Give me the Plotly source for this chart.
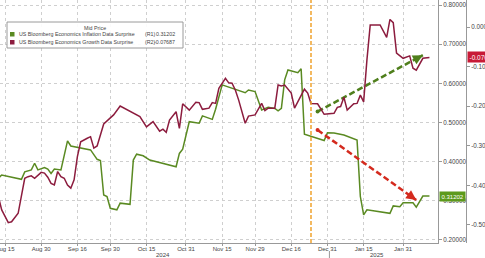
import numpy as np
import plotly.graph_objects as go

# ---------------- data ----------------
infl_dates = ["2024-08-13","2024-08-14","2024-08-22","2024-08-23","2024-08-27","2024-08-28","2024-08-29",
              "2024-09-02","2024-09-03","2024-09-04","2024-09-05","2024-09-09","2024-09-11","2024-09-12",
              "2024-09-20","2024-09-24","2024-09-25","2024-09-26","2024-09-27","2024-09-30","2024-10-02",
              "2024-10-03","2024-10-08","2024-10-09","2024-10-10","2024-10-14","2024-10-16","2024-10-28",
              "2024-10-29","2024-10-30","2024-11-01","2024-11-06","2024-11-07","2024-11-12","2024-11-13",
              "2024-11-15","2024-11-26","2024-11-27","2024-11-29","2024-12-03","2024-12-05","2024-12-09",
              "2024-12-10","2024-12-11","2024-12-12","2024-12-13","2024-12-18","2024-12-19","2024-12-20",
              "2024-12-24","2024-12-30","2024-12-31","2025-01-02","2025-01-07","2025-01-13","2025-01-14",
              "2025-01-15","2025-01-16","2025-01-27","2025-01-28","2025-01-30","2025-01-31","2025-02-05",
              "2025-02-06","2025-02-10","2025-02-12"]
infl_vals = [0.358,0.366,0.355,0.374,0.379,0.396,0.379,
             0.385,0.381,0.370,0.381,0.379,0.453,0.440,
             0.430,0.406,0.403,0.315,0.311,0.281,0.277,
             0.294,0.291,0.404,0.419,0.415,0.404,0.387,
             0.421,0.432,0.502,0.498,0.517,0.508,0.534,
             0.596,0.576,0.583,0.579,0.532,0.539,0.536,
             0.530,0.536,0.609,0.634,0.627,0.637,0.470,
             0.464,0.454,0.474,0.473,0.468,0.455,0.311,
             0.264,0.277,0.268,0.287,0.285,0.295,0.295,
             0.284,0.312,0.31202]

growth_dates = ["2024-08-13","2024-08-14","2024-08-16","2024-08-19","2024-08-21","2024-08-22","2024-08-23",
                "2024-08-26","2024-08-27","2024-08-28","2024-08-30","2024-09-02","2024-09-03","2024-09-04",
                "2024-09-05","2024-09-06","2024-09-09","2024-09-10","2024-09-11","2024-09-12","2024-09-13",
                "2024-09-16","2024-09-17","2024-09-19","2024-09-20","2024-09-23","2024-09-24","2024-09-26",
                "2024-09-30","2024-10-01","2024-10-03","2024-10-07","2024-10-10","2024-10-11","2024-10-15",
                "2024-10-17","2024-10-21","2024-10-22","2024-10-23","2024-10-24","2024-10-28","2024-10-29",
                "2024-10-30","2024-11-01","2024-11-05","2024-11-06","2024-11-07","2024-11-11","2024-11-12",
                "2024-11-13","2024-11-14","2024-11-18","2024-11-19","2024-11-20","2024-11-21","2024-11-22",
                "2024-11-26","2024-11-27","2024-11-29","2024-12-03","2024-12-04","2024-12-05","2024-12-09",
                "2024-12-10","2024-12-11","2024-12-12","2024-12-16","2024-12-17","2024-12-20","2024-12-23",
                "2024-12-24","2024-12-26","2024-12-30","2025-01-02","2025-01-03","2025-01-06","2025-01-07",
                "2025-01-08","2025-01-10","2025-01-13","2025-01-14","2025-01-15","2025-01-16","2025-01-17",
                "2025-01-22","2025-01-24","2025-01-27","2025-01-28","2025-01-29","2025-01-31","2025-02-04",
                "2025-02-05","2025-02-06","2025-02-10","2025-02-12"]
growth_vals = [-0.4285,-0.462,-0.494,-0.492,-0.4705,-0.424,-0.382,
               -0.378,-0.376,-0.382,-0.367,-0.369,-0.3795,-0.395,
               -0.399,-0.365,-0.378,-0.382,-0.399,-0.407,-0.386,
               -0.3275,-0.290,-0.281,-0.277,-0.306,-0.3005,-0.245,
               -0.228,-0.222,-0.1995,-0.208,-0.222,-0.2265,-0.252,
               -0.239,-0.263,-0.258,-0.266,-0.235,-0.214,-0.256,
               -0.194,-0.210,-0.190,-0.191,-0.208,-0.205,-0.191,
               -0.193,-0.155,-0.1295,-0.141,-0.142,-0.159,-0.184,
               -0.243,-0.225,-0.222,-0.193,-0.211,-0.205,-0.205,
               -0.1465,-0.149,-0.1465,-0.167,-0.205,-0.157,-0.167,
               -0.193,-0.194,-0.2205,-0.218,-0.203,-0.201,-0.1775,
               -0.210,-0.194,-0.193,-0.172,-0.189,-0.083,0.005,
               0.005,-0.026,0.019,0.011,-0.066,-0.079,-0.073,
               -0.104,-0.109,-0.079,-0.07687]

tick_dates = ["2024-08-15","2024-08-30","2024-09-16","2024-09-30","2024-10-15","2024-10-31",
              "2024-11-15","2024-11-29","2024-12-16","2024-12-31","2025-01-15","2025-01-31"]
tick_text = ["Aug 15","Aug 30","Sep 16","Sep 30","Oct 15","Oct 31",
             "Nov 15","Nov 29","Dec 16","Dec 31","Jan 15","Jan 31"]
year_labels = ["2024", "2025"]
year_dates = ["2024-10-22", "2025-01-21"]

r1_ticks = [0.2, 0.3, 0.4, 0.5, 0.6, 0.7, 0.8]
r2_ticks = [0.0, -0.1, -0.2, -0.3, -0.4, -0.5]

event_date = "2024-12-24"
up_arrow_dates = ["2024-12-26", "2025-02-10"]
up_arrow_vals = [0.528, 0.672]
down_arrow_dates = ["2024-12-26", "2025-02-06"]
down_arrow_vals = [0.481, 0.302]

infl_name = "US Bloomberg Economics Inflation Data Surprise"
growth_name = "US Bloomberg Economics Growth Data Surprise"

# ---------------- business-day scale (weekends skipped, as on the terminal) ----------------
ORIGIN = "2024-08-12"
def bd(dates):
    return np.busday_count(ORIGIN, np.array(dates, dtype="datetime64[D]")).astype(float)

GREEN = "#5a8a22"
RED = "#8c1c3e"
FONT = "Liberation Sans"

W, H = 485, 258
PLOT_H = 243
def px(x): return x / W
def py(y): return 1 - y / PLOT_H

fig = go.Figure()
fig.add_trace(go.Scatter(x=bd(infl_dates), y=infl_vals, mode="lines", yaxis="y",
                         line=dict(color=GREEN, width=1.5), showlegend=False, hoverinfo="skip"))
fig.add_trace(go.Scatter(x=bd(growth_dates), y=growth_vals, mode="lines", yaxis="y2",
                         line=dict(color=RED, width=1.5), showlegend=False, hoverinfo="skip"))

# dashed trend arrows
for dts, vals, col in [(up_arrow_dates, up_arrow_vals, "#4f7f1c"),
                       (down_arrow_dates, down_arrow_vals, "#d42a1e")]:
    xs = bd(dts)
    fig.add_trace(go.Scatter(x=xs, y=vals, mode="lines", yaxis="y",
                             line=dict(color=col, width=2.5, dash="6px,3px"),
                             showlegend=False, hoverinfo="skip"))
    fig.add_trace(go.Scatter(x=xs[:1], y=vals[:1], mode="markers", yaxis="y",
                             marker=dict(color=col, size=4), showlegend=False, hoverinfo="skip"))
    fx = xs[1] - (xs[1] - xs[0]) * 0.06
    fy = vals[1] - (vals[1] - vals[0]) * 0.06
    fig.add_annotation(x=xs[1], y=vals[1], ax=fx, ay=fy, xref="x", yref="y", axref="x", ayref="y",
                       text="", showarrow=True, arrowhead=2, arrowsize=0.8, arrowwidth=2.5,
                       arrowcolor=col, standoff=0, startstandoff=0)

ev = bd([event_date])[0]
fig.add_shape(type="line", xref="x", yref="paper", x0=ev, x1=ev, y0=0, y1=1,
              line=dict(color="#f0a22e", width=1.5, dash="4px,2px"))

# legend box
fig.add_shape(type="rect", xref="paper", yref="paper", x0=px(7), x1=px(183), y0=py(48), y1=py(22),
              line=dict(color="#9a9a9a", width=1), fillcolor="rgba(255,255,255,0.9)")
fig.add_shape(type="rect", xref="paper", yref="paper", x0=px(10), x1=px(14.5), y0=py(36.5), y1=py(32),
              line=dict(width=0), fillcolor=GREEN)
fig.add_shape(type="rect", xref="paper", yref="paper", x0=px(10), x1=px(14.5), y0=py(44.5), y1=py(40),
              line=dict(width=0), fillcolor=RED)

lf = dict(family=FONT, size=5.3, color="#444444")
anns = [
    dict(text="Mid Price", x=px(95), y=py(28.5), xanchor="center"),
    dict(text=infl_name, x=px(17), y=py(34.5), xanchor="left"),
    dict(text="(R1)", x=px(143), y=py(34.5), xanchor="left"),
    dict(text=f"{infl_vals[-1]:.5f}", x=px(177), y=py(34.5), xanchor="right"),
    dict(text=growth_name, x=px(17), y=py(42.3), xanchor="left"),
    dict(text="(R2)", x=px(143), y=py(42.3), xanchor="left"),
    dict(text=f"{growth_vals[-1]:.5f}", x=px(177), y=py(42.3), xanchor="right"),
]
for a in anns:
    fig.add_annotation(xref="paper", yref="paper", showarrow=False, yanchor="middle", font=lf, **a)

# year labels + separator
for yr, xv in zip(year_labels, bd(year_dates)):
    fig.add_annotation(xref="x", yref="paper", x=xv, y=py(254.5), text=yr, showarrow=False,
                       xanchor="center", yanchor="middle", font=dict(family=FONT, size=6, color="#444"))
sep = bd(["2024-12-31"])[0] + 0.6
fig.add_shape(type="line", xref="x", yref="paper", x0=sep, x1=sep,
              y0=py(251), y1=py(258), line=dict(color="#999", width=1))

# last value tags
fig.add_annotation(xref="paper", yref="y", x=px(439), y=infl_vals[-1], text=f"{infl_vals[-1]:.5f}",
                   showarrow=False, xanchor="left", yanchor="middle", bgcolor="#5c9a1c",
                   font=dict(family=FONT, size=6, color="white"), borderpad=1.5)
fig.add_annotation(xref="paper", yref="y2", x=px(467), y=growth_vals[-1], text=f"{growth_vals[-1]:.5f}",
                   showarrow=False, xanchor="left", yanchor="middle", bgcolor="#c81a36",
                   font=dict(family=FONT, size=6.5, color="white"), borderpad=1.5)

tf = dict(family=FONT, size=6, color="#444444")
x0 = bd(["2024-08-13"])[0] + 0.48
x1 = bd(["2025-02-14"])[0] + 0.6
fig.update_layout(
    width=W, height=H, margin=dict(l=0, r=0, t=0, b=H - PLOT_H, autoexpand=False),
    paper_bgcolor="white", plot_bgcolor="white",
    xaxis=dict(domain=[0, px(438)], range=[x0, x1], automargin=False,
               tickmode="array", tickvals=bd(tick_dates), ticktext=tick_text, tickfont=tf,
               ticks="outside", ticklen=2, tickcolor="#999", ticklabeloverflow="allow",
               ticklabelstandoff=-2,
               showline=True, linecolor="#999", linewidth=1,
               showgrid=True, gridcolor="#cfcfcf", griddash="dot", gridwidth=1, zeroline=False),
    yaxis=dict(side="right", anchor="x", range=[0.1923, 0.8128], automargin=False,
               tickmode="array", tickvals=r1_ticks, ticktext=[f"{v:.5f}" for v in r1_ticks],
               tickfont=dict(family=FONT, size=6.3, color="#444"),
               ticks="outside", ticklen=3, tickcolor="#999",
               showline=True, linecolor="#999", linewidth=1,
               showgrid=True, gridcolor="#cfcfcf", griddash="dot", gridwidth=1, zeroline=False),
    yaxis2=dict(side="right", overlaying="y", anchor="free", position=px(466),
                range=[-0.5455, 0.0682], automargin=False,
                tickmode="array", tickvals=r2_ticks, ticktext=[f"{v:.5f}" for v in r2_ticks],
                tickfont=dict(family=FONT, size=6.3, color="#444"),
                ticks="outside", ticklen=3, tickcolor="#999",
                showline=True, linecolor="#999", linewidth=1, showgrid=False, zeroline=False),
    showlegend=False,
)

fig.write_html("out.html")
